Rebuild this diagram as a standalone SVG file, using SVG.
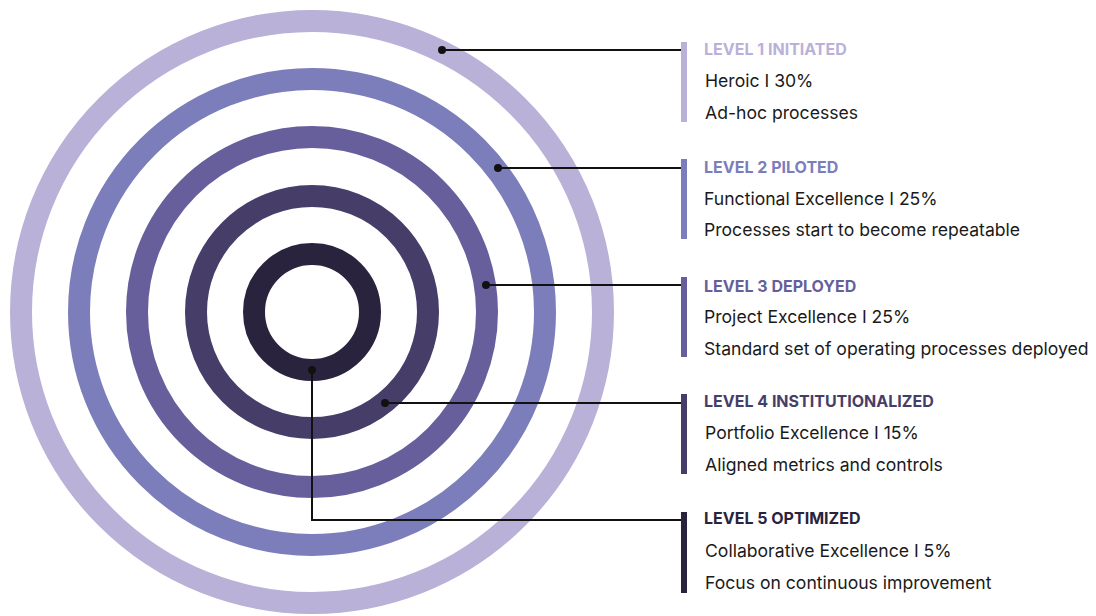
<svg xmlns="http://www.w3.org/2000/svg" width="1096" height="616" viewBox="0 0 1096 616">
<style>
.ring{fill:none;stroke-width:22}
.c1{stroke:#BAB1D9}.c2{stroke:#7C7EBB}.c3{stroke:#675F9B}.c4{stroke:#463E69}.c5{stroke:#29233D}
.f1{fill:#BAB1D9}.f2{fill:#7C7EBB}.f3{fill:#675F9B}.f4{fill:#463E69}.f5{fill:#29233D}
.conn{fill:none;stroke:#111111;stroke-width:2}
.dot{fill:#111111}
.h{font-family:Inter,"Liberation Sans",sans-serif;font-size:16px;font-weight:700}
.t{font-family:Inter,"Liberation Sans",sans-serif;font-size:17.6px;fill:#1A1A1A}
</style>
<rect width="1096" height="616" fill="#FFFFFF"/>
<g id="rings">
<circle id="ring1" class="ring c1" cx="312" cy="312" r="291"/>
<circle id="ring2" class="ring c2" cx="312" cy="312" r="233"/>
<circle id="ring3" class="ring c3" cx="312" cy="312" r="175"/>
<circle id="ring4" class="ring c4" cx="312" cy="312" r="116"/>
<circle id="ring5" class="ring c5" cx="312" cy="312" r="58"/>
</g>
<g id="connectors">
<path class="conn" d="M442 50H682"/>
<path class="conn" d="M498 168H682"/>
<path class="conn" d="M486 285H682"/>
<path class="conn" d="M385 403H682"/>
<path class="conn" d="M312 370V520H682"/>
<circle class="dot" cx="442" cy="50" r="4"/>
<circle class="dot" cx="498" cy="168" r="4"/>
<circle class="dot" cx="486" cy="285" r="4"/>
<circle class="dot" cx="385" cy="403" r="4"/>
<circle class="dot" cx="312" cy="370" r="4"/>
</g>
<g id="level1">
<rect class="f1" x="681" y="42" width="6" height="80"/>
<text class="h f1" x="704" y="55">LEVEL 1 INITIATED</text>
<text class="t" x="705" y="87">Heroic I 30%</text>
<text class="t" x="705" y="119">Ad-hoc processes</text>
</g>
<g id="level2">
<rect class="f2" x="681" y="159" width="6" height="80"/>
<text class="h f2" x="704" y="173">LEVEL 2 PILOTED</text>
<text class="t" x="704" y="205">Functional Excellence I 25%</text>
<text class="t" x="704" y="236">Processes start to become repeatable</text>
</g>
<g id="level3">
<rect class="f3" x="681" y="277" width="6" height="80"/>
<text class="h f3" x="704" y="292">LEVEL 3 DEPLOYED</text>
<text class="t" x="704" y="323">Project Excellence I 25%</text>
<text class="t" x="704" y="355">Standard set of operating processes deployed</text>
</g>
<g id="level4">
<rect class="f4" x="681" y="394" width="6" height="80"/>
<text class="h f4" x="704" y="407">LEVEL 4 INSTITUTIONALIZED</text>
<text class="t" x="705" y="439">Portfolio Excellence I 15%</text>
<text class="t" x="705" y="471">Aligned metrics and controls</text>
</g>
<g id="level5">
<rect class="f5" x="681" y="512" width="6" height="81"/>
<text class="h f5" x="704" y="524">LEVEL 5 OPTIMIZED</text>
<text class="t" x="705" y="557">Collaborative Excellence I 5%</text>
<text class="t" x="705" y="589">Focus on continuous improvement</text>
</g>
</svg>
